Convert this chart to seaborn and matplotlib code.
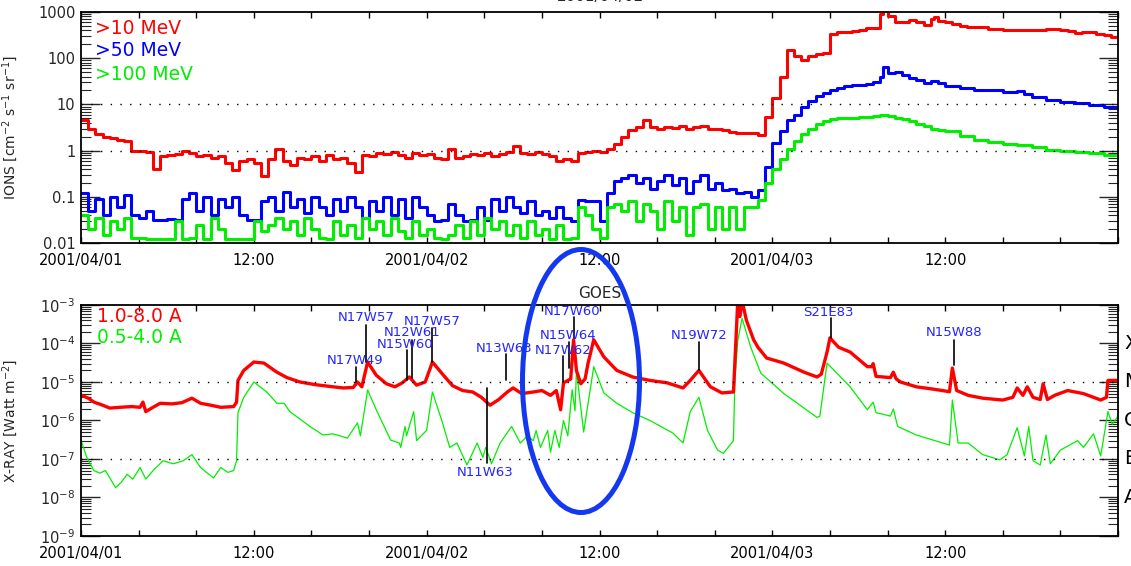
import numpy as np
import pandas as pd
import matplotlib
matplotlib.use('Agg')
import matplotlib.pyplot as plt
import seaborn as sns
from matplotlib.patches import Ellipse
from matplotlib.ticker import FixedLocator, MultipleLocator, LogLocator, LogFormatterMathtext, NullFormatter, FixedFormatter

sns.set_theme(style='ticks')
plt.rcParams['font.family'] = ['DejaVu Sans']
plt.rcParams['mathtext.fontset'] = 'dejavusans'

# ---------------- data (hours since 2001/04/01 00:00) ----------------
t_quiet = [i * 0.5 for i in range(95)]  # 0 .. 47 h, half-hour samples

p10_quiet = [
    4.6, 3.0, 2.3, 2.0, 1.9, 1.7, 1.6, 1.0, 1.0, 0.95,
    0.4, 0.75, 0.8, 0.85, 1.0, 0.9, 0.75, 0.8, 0.7, 0.75,
    0.55, 0.38, 0.6, 0.65, 0.55, 0.28, 0.65, 1.1, 0.6, 0.5,
    0.7, 0.65, 0.75, 0.6, 0.8, 0.65, 0.7, 0.55, 0.35, 0.8,
    0.75, 0.9, 0.85, 0.95, 0.8, 0.7, 0.9, 0.8, 0.85, 0.7,
    0.65, 1.1, 0.7, 0.75, 0.85, 0.8, 0.9, 0.75, 0.85, 0.95,
    1.25, 0.9, 0.85, 0.95, 0.85, 0.75, 0.6, 0.65, 0.6, 0.9,
    0.95, 1.0, 0.95, 1.1, 1.4, 2.0, 2.8, 3.3, 4.5, 3.2,
    3.0, 3.3, 3.1, 3.4, 3.0, 3.2, 3.4, 2.9, 3.0, 2.8,
    2.5, 2.4, 2.35, 2.4, 2.2]
p50_quiet = [
    0.12, 0.05, 0.09, 0.04, 0.10, 0.06, 0.11, 0.04, 0.035, 0.05,
    0.032, 0.032, 0.033, 0.032, 0.09, 0.12, 0.05, 0.1, 0.04, 0.09,
    0.06, 0.1, 0.04, 0.032, 0.032, 0.08, 0.1, 0.05, 0.13, 0.06,
    0.09, 0.045, 0.1, 0.06, 0.04, 0.09, 0.05, 0.1, 0.06, 0.035,
    0.08, 0.05, 0.1, 0.04, 0.09, 0.035, 0.1, 0.06, 0.04, 0.03,
    0.032, 0.07, 0.04, 0.03, 0.032, 0.06, 0.032, 0.09, 0.05, 0.1,
    0.06, 0.045, 0.08, 0.04, 0.05, 0.035, 0.06, 0.035, 0.03, 0.085,
    0.08, 0.08, 0.03, 0.12, 0.22, 0.25, 0.3, 0.2, 0.25, 0.15,
    0.22, 0.3, 0.18, 0.25, 0.12, 0.22, 0.3, 0.15, 0.2, 0.14,
    0.15, 0.12, 0.13, 0.1, 0.14]
p100_quiet = [
    0.04, 0.02, 0.035, 0.015, 0.03, 0.02, 0.035, 0.013, 0.013, 0.012,
    0.012, 0.012, 0.012, 0.03, 0.012, 0.013, 0.025, 0.012, 0.035, 0.02,
    0.012, 0.012, 0.012, 0.012, 0.03, 0.018, 0.025, 0.035, 0.02, 0.03,
    0.015, 0.035, 0.02, 0.013, 0.012, 0.03, 0.015, 0.025, 0.013, 0.035,
    0.02, 0.03, 0.015, 0.035, 0.018, 0.013, 0.03, 0.015, 0.02, 0.013,
    0.012, 0.015, 0.025, 0.013, 0.03, 0.015, 0.035, 0.02, 0.03, 0.015,
    0.025, 0.013, 0.03, 0.015, 0.02, 0.012, 0.025, 0.012, 0.013, 0.06,
    0.04, 0.02, 0.013, 0.06, 0.07, 0.05, 0.08, 0.03, 0.07, 0.05,
    0.02, 0.08, 0.03, 0.06, 0.015, 0.06, 0.07, 0.02, 0.06, 0.02,
    0.06, 0.02, 0.06, 0.06, 0.085]

t10_event = [47.5, 48.0, 48.5, 49.0, 49.5, 50.0, 50.5, 51.0, 51.5, 52.0, 52.5, 53.0,
             53.5, 54.0, 54.5, 55.0, 55.5, 55.7, 56.0, 56.5, 57.0, 57.5, 58.0, 58.5,
             59.0, 59.2, 59.5, 60.0, 60.5, 61.0, 61.5, 62.0, 63.0, 64.0, 65.0, 66.0,
             67.0, 68.0, 68.5, 69.0, 69.5, 70.0, 70.5, 71.0, 71.5, 72.0]
p10_event = [5.4, 14, 40, 150, 110, 90, 110, 125, 130, 330, 370, 360,
             380, 400, 450, 460, 900, 1100, 800, 600, 620, 680, 600, 520,
             700, 790, 650, 600, 560, 500, 480, 470, 430, 410, 410, 410,
             420, 400, 380, 350, 365, 370, 340, 310, 290, 275]

t50_event = [47.5, 48.0, 48.5, 49.0, 49.5, 50.0, 50.5, 51.0, 51.5, 52.0, 52.5, 53.0,
             53.5, 54.0, 54.5, 55.0, 55.5, 55.7, 56.0, 56.5, 57.0, 57.5, 58.0, 58.5,
             59.0, 59.5, 60.0, 61.0, 62.0, 63.0, 64.0, 65.0, 65.5, 66.0, 67.0, 68.0,
             69.0, 70.0, 71.0, 72.0]
p50_event = [0.45, 1.45, 2.6, 4.6, 6.0, 9.0, 12, 15, 18, 21, 23, 25,
             26, 26, 27, 31, 40, 66, 48, 50, 44, 38, 33, 29,
             32, 29, 25, 23, 21, 20, 19, 19.5, 17, 14.5, 12.5, 11.5,
             10.5, 9.5, 8.8, 8.3]

t100_event = [47.5, 48.0, 48.5, 49.0, 49.5, 50.0, 50.5, 51.0, 51.5, 52.0, 52.5, 53.0,
              54.0, 54.5, 55.0, 55.5, 56.0, 56.5, 57.0, 57.5, 58.0, 58.5, 59.0, 59.5,
              60.0, 61.0, 62.0, 63.0, 64.0, 65.0, 66.0, 67.0, 68.0, 69.0, 70.0, 71.0, 72.0]
p100_event = [0.2, 0.4, 0.65, 1.1, 1.6, 2.3, 3.0, 3.8, 4.3, 4.8, 5.0, 5.2,
              5.3, 5.4, 5.5, 5.8, 5.6, 5.2, 4.9, 4.4, 3.8, 3.4, 3.0, 2.8,
              2.6, 2.1, 1.7, 1.5, 1.4, 1.3, 1.2, 1.05, 1.0, 0.92, 0.88, 0.8, 0.75]

xl_t = [0, 0.5, 0.9, 1.5, 2.0, 2.7, 3.5, 4.1, 4.3, 4.5, 5.0, 5.5, 6.3, 7.0, 7.7, 8.3, 9.0,
        9.7, 10.6, 10.8, 10.9, 11.3, 12.0, 12.7, 13.6, 14.3, 15.2, 16.3, 17.5, 18.2, 18.9,
        19.2, 19.5, 19.9, 20.5, 21.2, 21.8, 22.3, 22.8, 23.3, 23.9, 24.4, 25.1, 25.8, 26.5,
        27.2, 27.8, 28.4, 29.0, 29.6, 30.0, 30.6, 31.4, 32.0, 32.6, 33.0, 33.3, 33.5, 34.0,
        34.2, 34.4, 34.7, 35.0, 35.2, 35.6, 36.3, 37.2, 38.3, 39.5, 40.7, 41.8, 42.3, 42.9,
        43.7, 44.5, 45.3, 45.45, 45.6, 45.75, 45.9, 46.2, 46.7, 47.0, 47.6, 48.8, 50.2, 51.1,
        51.4, 51.8, 52.0, 52.6, 53.4, 54.6, 54.9, 55.0, 55.2, 56.2, 56.4, 56.6, 56.9, 58.0,
        59.2, 60.3, 60.5, 60.8, 61.6, 62.6, 64.0, 64.7, 65.0, 65.4, 65.7, 66.1, 66.6, 66.8,
        67.1, 67.6, 68.5, 69.6, 70.3, 70.8, 71.2, 71.3, 72.0]
xl_flux = [4.6e-6, 3.8e-6, 3.0e-6, 2.5e-6, 2.1e-6, 2.2e-6, 2.3e-6, 2.2e-6, 3.0e-6, 1.7e-6,
           2.2e-6, 2.8e-6, 2.7e-6, 2.9e-6, 3.8e-6, 2.8e-6, 2.5e-6, 2.2e-6, 2.3e-6, 3.0e-6,
           1.1e-5, 2.0e-5, 3.3e-5, 3.1e-5, 1.8e-5, 1.3e-5, 1.0e-5, 8.5e-6, 7.5e-6, 7.0e-6,
           7.2e-6, 1.0e-5, 7.5e-6, 3.3e-5, 1.5e-5, 9e-6, 7.5e-6, 9.5e-6, 1.35e-5, 8.3e-6,
           1.0e-5, 3.3e-5, 1.6e-5, 8e-6, 6e-6, 5.5e-6, 4e-6, 2.5e-6, 3.5e-6, 5.5e-6,
           7e-6, 5e-6, 5.5e-6, 6e-6, 4.5e-6, 6e-6, 1.9e-6, 9.5e-6, 1.2e-5, 1.25e-4,
           2e-5, 9e-6, 1.2e-5, 3e-5, 1.25e-4, 4.5e-5, 2e-5, 1.35e-5, 1.1e-5, 9.5e-6,
           7e-6, 1.1e-5, 2e-5, 7.5e-6, 5.2e-6, 5.5e-6, 8e-5, 1.3e-3, 5e-4, 1.3e-3,
           4e-4, 1.25e-4, 8e-5, 4.2e-5, 3.1e-5, 1.8e-5, 1.35e-5, 1.6e-5, 6e-5, 1.4e-4,
           8e-5, 6e-5, 2.5e-5, 2.5e-5, 3e-5, 1.4e-5, 1.3e-5, 1.8e-5, 1.2e-5, 1.0e-5,
           7.5e-6, 6.5e-6, 5.6e-6, 2.3e-5, 6e-6, 4.5e-6, 3.8e-6, 3.4e-6, 4e-6, 7e-6,
           4.5e-6, 7.5e-6, 4e-6, 3.5e-6, 9e-6, 3.5e-6, 4.5e-6, 6e-6, 5e-6, 4e-6,
           3.4e-6, 4e-6, 1.1e-5, 1.1e-5]

xs_t = [0, 0.4, 0.9, 1.3, 1.7, 2.4, 2.8, 3.2, 3.6, 4.1, 4.5, 5.0, 5.7, 6.4, 7.1, 7.7, 8.3,
        9.2, 9.7, 10.2, 10.6, 10.8, 10.9, 11.3, 12.0, 12.9, 13.6, 14.1, 14.5, 15.9, 16.8,
        17.5, 18.5, 19.2, 19.4, 19.9, 20.5, 21.5, 22.1, 22.2, 22.5, 22.6, 23.1, 23.3, 24.0,
        24.4, 25.1, 25.6, 26.1, 26.8, 27.5, 27.9, 28.1, 28.5, 29.1, 29.9, 30.5, 31.0, 31.4,
        31.6, 31.9, 32.4, 32.6, 32.9, 33.2, 33.5, 33.8, 34.1, 34.3, 34.4, 34.9, 35.6, 36.3,
        37.2, 38.3, 39.5, 41.1, 41.8, 42.3, 42.9, 43.5, 44.2, 44.6, 45.3, 45.4, 45.6, 45.9,
        46.2, 46.5, 47.2, 48.8, 50.2, 51.1, 51.3, 51.8, 53.4, 54.6, 55.0, 55.2, 56.2, 56.4,
        56.7, 58.0, 60.3, 60.5, 60.9, 61.6, 62.6, 63.8, 64.3, 65.0, 65.5, 65.8, 66.1, 66.6,
        67.0, 67.3, 68.0, 69.2, 69.6, 70.3, 70.8, 71.3, 71.6, 72.0]
xs_flux = [3.1e-7, 1.1e-7, 5e-8, 4.3e-8, 5e-8, 1.8e-8, 2.5e-8, 4e-8, 3e-8, 6e-8,
           3e-8, 5e-8, 9e-8, 7.5e-8, 9e-8, 1.3e-7, 6e-8, 3.2e-8, 6e-8, 4.5e-8,
           5e-8, 9e-8, 1.6e-6, 4e-6, 1e-5, 5.5e-6, 2.8e-6, 2.8e-6, 1.7e-6, 7e-7,
           4.2e-7, 4.5e-7, 3.5e-7, 8.7e-7, 4e-7, 6.2e-6, 1.9e-6, 3.1e-7, 2.6e-7, 2e-7,
           7e-7, 4e-7, 1.7e-6, 3e-7, 5.6e-7, 5.5e-6, 8.7e-7, 2e-7, 2.6e-7, 7e-8,
           2.6e-7, 1.1e-7, 2e-7, 7.5e-8, 2.6e-7, 7e-7, 2.6e-7, 4e-7, 3e-7, 5.5e-7,
           2e-7, 5.5e-7, 1.5e-7, 5.5e-7, 2e-7, 1e-6, 4e-7, 6.3e-6, 1.8e-6, 2e-5,
           5e-7, 2.5e-5, 5.2e-6, 2.8e-6, 1.6e-6, 1e-6, 4.7e-7, 2.6e-7, 1.7e-6, 4e-6,
           5.5e-7, 1.7e-7, 1.4e-7, 3e-7, 1.1e-5, 1.2e-4, 4.5e-4, 1.9e-4, 8e-5, 1.7e-5,
           5e-6, 2.1e-6, 1.2e-6, 1.3e-6, 3.1e-5, 7.5e-6, 1.9e-6, 3e-6, 1.6e-6, 1.3e-6,
           2e-6, 7e-7, 4.2e-7, 2.3e-7, 3.4e-6, 2.6e-7, 2.6e-7, 1.3e-7, 9.5e-8, 1.3e-7,
           6.5e-7, 1.2e-7, 7e-7, 9e-8, 7e-8, 4.2e-7, 7.5e-8, 1.7e-7, 3e-7, 2e-7,
           4.5e-7, 1.2e-7, 1.7e-6, 8e-7, 1.3e-6]

# active-region labels: name, hour of line, line bottom, line top, label hour, label flux
ar_names = ['N17W49', 'N17W57', 'N15W60', 'N12W61', 'N17W57', 'N11W63', 'N13W63',
            'N17W62', 'N15W64', 'N17W60', 'N19W72', 'S21E83', 'N15W88']
ar_hour = [19.1, 19.8, 22.6, 23.0, 24.4, 28.2, 29.5, 33.5, 33.9, 34.2, 42.9, 52.1, 60.6]
ar_lo = [1e-5, 3.3e-5, 1.1e-5, 1.26e-5, 3.3e-5, 6.9e-6, 1.1e-5, 1e-5, 2.3e-5, 1.4e-4, 2e-5, 1.4e-4, 2.8e-5]
ar_hi = [2.4e-5, 3e-4, 6.7e-5, 1.23e-4, 2.5e-4, 8e-8, 5.4e-5, 4.8e-5, 1.1e-4, 4.9e-4, 1.1e-4, 4.6e-4, 1.23e-4]
ar_lab_hour = [19.0, 19.8, 22.5, 23.0, 24.4, 28.05, 29.4, 33.5, 33.8, 34.1, 42.9, 51.9, 60.6]
ar_lab_flux = [3.7e-5, 4.6e-4, 9.7e-5, 1.9e-4, 3.8e-4, 4.4e-8, 7.6e-5, 6.7e-5, 1.66e-4, 6.6e-4, 1.66e-4, 6.2e-4, 1.9e-4]

x_tick_hours = [0, 12, 24, 36, 48, 60]
x_tick_labels = ['2001/04/01', '12:00', '2001/04/02', '12:00', '2001/04/03', '12:00']
p_ticks = [0.01, 0.1, 1, 10, 100, 1000]
p_tick_labels = ['0.01', '0.1', '1', '10', '100', '1000']
goes_classes = ['X', 'M', 'C', 'B', 'A']
goes_class_pos = [1e-4, 1e-5, 1e-6, 1e-7, 1e-8]

# ---------------- figure ----------------
W, H = 1131, 566
fig = plt.figure(figsize=(W / 100, H / 100), dpi=100)
fig.patch.set_facecolor('white')


def rect(l, t, r, b):
    return [l / W, 1 - b / H, (r - l) / W, (b - t) / H]


ax1 = fig.add_axes(rect(81, 12, 1118, 243))
ax2 = fig.add_axes(rect(81, 305, 1118, 536))

RED, BLUE, GREEN = '#ff0000', '#0000ff', '#00ee00'
LBLUE = '#2424ff'

proton = [
    (t_quiet + t10_event, p10_quiet + p10_event, RED),
    (t_quiet + t50_event, p50_quiet + p50_event, BLUE),
    (t_quiet + t100_event, p100_quiet + p100_event, GREEN),
]
for tt, vv, col in proton:
    df = pd.DataFrame({'hour': tt, 'flux': vv})
    sns.lineplot(data=df, x='hour', y='flux', ax=ax1, color=col, linewidth=2.2,
                 drawstyle='steps-post', estimator=None, sort=False)

df_l = pd.DataFrame({'hour': xl_t, 'flux': xl_flux})
df_s = pd.DataFrame({'hour': xs_t, 'flux': xs_flux})
sns.lineplot(data=df_s, x='hour', y='flux', ax=ax2, color=GREEN, linewidth=0.9,
             estimator=None, sort=False)
sns.lineplot(data=df_l, x='hour', y='flux', ax=ax2, color=RED, linewidth=2.4,
             estimator=None, sort=False)

for ax in (ax1, ax2):
    ax.set_yscale('log')
    ax.set_xlim(0, 72)
    ax.set_xlabel('')
    ax.xaxis.set_major_locator(FixedLocator(x_tick_hours))
    ax.xaxis.set_major_formatter(FixedFormatter(x_tick_labels))
    ax.xaxis.set_minor_locator(MultipleLocator(4))
    ax.tick_params(axis='x', which='both', direction='in', top=True, bottom=True,
                   length=4, width=1, pad=7, labelsize=10.5, colors='black')
    ax.tick_params(axis='y', which='major', direction='in', left=True, right=True,
                   length=14, width=1, pad=4, labelsize=10.5)
    ax.tick_params(axis='y', which='minor', direction='in', left=True, right=True,
                   length=7, width=0.8)
    for s in ax.spines.values():
        s.set_linewidth(1.3)
        s.set_color('black')
    ax.set_facecolor('white')
    ax.grid(False)

ax1.set_ylim(0.01, 1000)
ax1.yaxis.set_major_locator(FixedLocator(p_ticks))
ax1.yaxis.set_major_formatter(FixedFormatter(p_tick_labels))
ax1.yaxis.set_minor_locator(LogLocator(base=10, subs=np.arange(2, 10)))
ax1.yaxis.set_minor_formatter(NullFormatter())
for lvl in (1, 10):
    ax1.axhline(lvl, color='black', lw=1.0, ls=(0, (1, 6)))
ax1.set_ylabel('IONS [cm$^{-2}$ s$^{-1}$ sr$^{-1}$]', fontsize=10)
ax1.yaxis.set_label_coords(-61 / 1037, 0.5)

ax2.set_ylim(1e-9, 1e-3)
ax2.yaxis.set_major_locator(LogLocator(base=10, numticks=10))
ax2.yaxis.set_major_formatter(LogFormatterMathtext())
ax2.yaxis.set_minor_locator(LogLocator(base=10, subs=np.arange(2, 10), numticks=20))
ax2.yaxis.set_minor_formatter(NullFormatter())
for lvl in (1e-5, 1e-7):
    ax2.axhline(lvl, color='black', lw=1.0, ls=(0, (1, 6)))
ax2.set_ylabel('X-RAY [Watt m$^{-2}$]', fontsize=10)
ax2.yaxis.set_label_coords(-61 / 1037, 0.5)
ax2.set_title('GOES', fontsize=11, pad=5)

# legends as coloured text
for y, txt, col in [(1 - 16 / 231, '>10 MeV', RED), (1 - 39 / 231, '>50 MeV', BLUE),
                    (1 - 62 / 231, '>100 MeV', GREEN)]:
    ax1.text(14 / 1037, y, txt, color=col, fontsize=13.5, transform=ax1.transAxes,
             ha='left', va='center')
for y, txt, col in [(1 - 12 / 231, '1.0-8.0 A', RED), (1 - 33 / 231, '0.5-4.0 A', GREEN)]:
    ax2.text(16 / 1037, y, txt, color=col, fontsize=13.5, transform=ax2.transAxes,
             ha='left', va='center')

# GOES class letters on the right (cut by the image edge, as in the reference)
for letter, pos in zip(goes_classes, goes_class_pos):
    ax2.text(1 + 6 / 1037, pos, letter, transform=ax2.get_yaxis_transform(),
             fontsize=14, ha='left', va='center', color='black', clip_on=False)

# active region annotations
for name, h, lo, hi, lh, lf in zip(ar_names, ar_hour, ar_lo, ar_hi, ar_lab_hour, ar_lab_flux):
    ax2.plot([h, h], [lo, hi], color='black', lw=1.2)
    ax2.text(lh, lf, name, color=LBLUE, fontsize=9.5, ha='center', va='center')

# date title (mostly off the top of the image, as in the reference)
fig.text(600 / W, 1 - 1.5 / H, '2001/04/02', ha='center', va='baseline', fontsize=11)

# blue ellipse highlighting the flare interval
ell = Ellipse((581 / W, 1 - 381 / H), 117 / W, 263 / H, transform=fig.transFigure,
              fill=False, edgecolor='#1438f0', linewidth=3.6, zorder=10)
fig.add_artist(ell)

fig.savefig('out.png', dpi=100)
